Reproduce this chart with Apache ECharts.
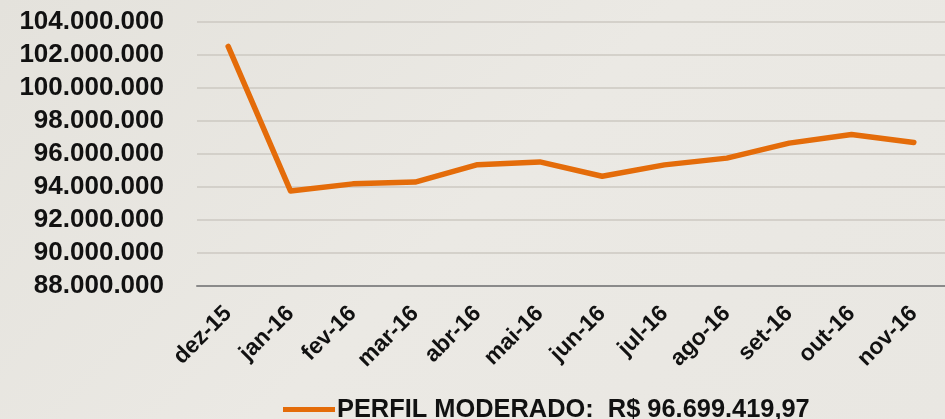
<!DOCTYPE html>
<html>
<head>
<meta charset="utf-8">
<script src="https://cdn.jsdelivr.net/npm/echarts@6/dist/echarts.min.js"></script>
<style>
html,body{margin:0;padding:0;}
#c{width:945px;height:419px;background:linear-gradient(135deg,#e4e2dc 0%,#ebe9e4 50%,#e9e7e2 100%);}
</style>
</head>
<body>
<div id="c"></div>
<script>
const categories = ["dez-15","jan-16","fev-16","mar-16","abr-16","mai-16","jun-16","jul-16","ago-16","set-16","out-16","nov-16"];
const values = [102520000, 93760000, 94190000, 94300000, 95350000, 95520000, 94650000, 95340000, 95750000, 96660000, 97180000, 96699419.97];
const seriesName = "PERFIL MODERADO";
const finalValueLabel = "R$ 96.699.419,97";
const yMin = 88000000, yMax = 104000000, yStep = 2000000;

function fmt(v){ return String(Math.round(v)).replace(/\B(?=(\d{3})+(?!\d))/g, "."); }

const chart = echarts.init(document.getElementById('c'), null, {renderer:'canvas'});
const font = "'Liberation Sans', Arial, sans-serif";
chart.setOption({
  animation:false,
  backgroundColor:'transparent',
  grid:{left:197, right:-3, top:22, bottom:133, containLabel:false},
  legend:{
    left:278, top:392,
    itemWidth:52, itemHeight:14, itemGap:10,
    data:[seriesName],
    icon:'path://M0,4.5 L52,4.5 L52,9.5 L0,9.5 Z',
    formatter: n => n + ":  " + finalValueLabel,
    textStyle:{fontFamily:font, fontWeight:'bold', fontSize:25.4, color:'#111', padding:[0,0,0,-3]}
  },
  xAxis:{
    type:'category', data:categories, boundaryGap:true,
    axisLine:{lineStyle:{color:'#8a8a8a', width:2}},
    axisTick:{length:6, lineStyle:{color:'#8a8a8a', width:2}},
    axisLabel:{rotate:45, margin:24, fontFamily:font, fontWeight:'bold', fontSize:23, color:'#111', interval:0}
  },
  yAxis:{
    type:'value', min:yMin, max:yMax, interval:yStep,
    axisLine:{show:false}, axisTick:{show:false},
    splitLine:{lineStyle:{color:'#cdc9c2', width:1.5}},
    axisLabel:{margin:33, formatter:fmt, fontFamily:font, fontWeight:'bold', fontSize:26, color:'#111'}
  },
  series:[{
    name:seriesName, type:'line', data:values,
    showSymbol:false, symbol:'none',
    lineStyle:{color:'#e46c0a', width:5.5, cap:'round', join:'round'},
    itemStyle:{color:'#e46c0a'}
  }]
});
</script>
</body>
</html>
